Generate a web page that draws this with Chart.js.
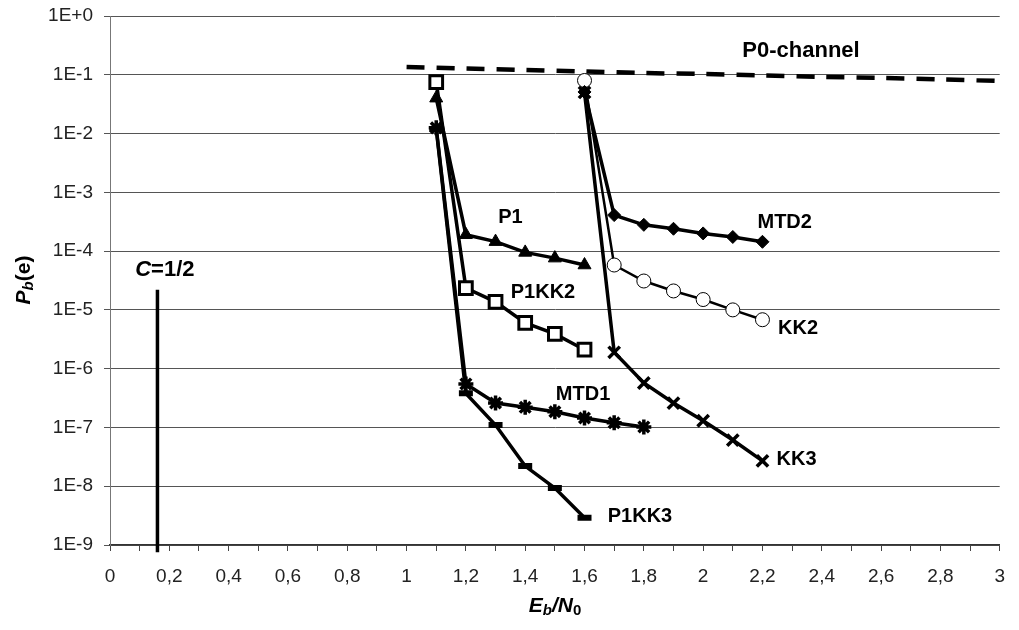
<!DOCTYPE html>
<html>
<head>
<meta charset="utf-8">
<script src="https://cdn.jsdelivr.net/npm/chart.js@4"></script>
<style>
  body { margin: 0; background: #fff; }
  #wrap { width: 1019px; height: 630px; }
</style>
</head>
<body>
<div id="wrap"><canvas id="chart" width="1019" height="630"></canvas></div>
<script>
// Eb/N0 points
var xLeft = [1.1, 1.2, 1.3, 1.4, 1.5, 1.6];
var xMtd1 = [1.1, 1.2, 1.3, 1.4, 1.5, 1.6, 1.7, 1.8];
var xRight = [1.6, 1.7, 1.8, 1.9, 2.0, 2.1, 2.2];
var xChannel = [1.0, 1.2, 1.4, 1.6, 1.8, 2.0, 2.2, 2.4, 2.6, 2.8, 3.0];
var xLimit = [0.16, 0.16];

// Pb(e) values
var p1 = [4e-2, 1.9e-4, 1.45e-4, 9.5e-5, 7.6e-5, 5.8e-5];
var p1kk2 = [7.5e-2, 2.35e-5, 1.37e-5, 6e-6, 3.9e-6, 2.1e-6];
var mtd1 = [1.25e-2, 5.5e-7, 2.6e-7, 2.2e-7, 1.85e-7, 1.45e-7, 1.2e-7, 1.02e-7];
var p1kk3 = [1.2e-2, 3.8e-7, 1.1e-7, 2.2e-8, 9.3e-9, 2.9e-9];
var mtd2 = [5.1e-2, 4.1e-4, 2.8e-4, 2.4e-4, 2.0e-4, 1.74e-4, 1.44e-4];
var kk2 = [8e-2, 5.8e-5, 3.1e-5, 2.1e-5, 1.5e-5, 1.0e-5, 6.8e-6];
var kk3 = [5e-2, 1.9e-6, 5.7e-7, 2.6e-7, 1.3e-7, 6.1e-8, 2.7e-8];
var channel = [0.136, 0.128, 0.121, 0.114, 0.107, 0.103, 0.0973, 0.0918, 0.0882, 0.0832, 0.0785];
var limit = [7.5e-10, 2.2e-5];

var decades = [1, 1e-1, 1e-2, 1e-3, 1e-4, 1e-5, 1e-6, 1e-7, 1e-8, 1e-9];

// curve labels: text, x, y
var labelText = ['P0-channel', 'P1', 'MTD2', 'P1KK2', 'KK2', 'MTD1', 'KK3', 'P1KK3'];
var labelX = [2.33, 1.35, 2.275, 1.46, 2.32, 1.595, 2.315, 1.787];
var labelY = [0.25, 3.7e-4, 3.1e-4, 1.95e-5, 4.8e-6, 3.6e-7, 2.8e-8, 3.1e-9];

function pts(xs, ys) {
  var out = [];
  for (var i = 0; i < xs.length; i++) {
    out.push({x: xs[i], y: ys[i]});
  }
  return out;
}

function series(xs, ys, style, radius, fill, bw, lw) {
  return {
    data: pts(xs, ys),
    showLine: true,
    borderColor: '#000',
    borderWidth: lw || 3.5,
    backgroundColor: fill,
    pointStyle: style,
    pointRadius: radius,
    pointHoverRadius: radius,
    pointBorderColor: '#000',
    pointBackgroundColor: fill,
    pointBorderWidth: bw,
    tension: 0
  };
}

var lbl = 'bold 20px "Liberation Sans", Arial, sans-serif';

function drawRuns(ctx, runs, x, y) {
  var w = 0;
  runs.forEach(function(r) { ctx.font = r.font; w += ctx.measureText(r.t).width; });
  var cx = x - w / 2;
  runs.forEach(function(r) {
    ctx.font = r.font;
    ctx.fillText(r.t, cx, y + (r.dy || 0));
    cx += ctx.measureText(r.t).width;
  });
}

var textPlugin = {
  id: 'texts',
  afterDatasetsDraw: function(chart) {
    var ctx = chart.ctx;
    var xs = chart.scales.x, ys = chart.scales.y;
    ctx.save();
    ctx.fillStyle = '#000';
    ctx.textAlign = 'left';
    ctx.textBaseline = 'middle';
    for (var i = 0; i < labelText.length; i++) {
      var f = i === 0 ? 'bold 22px "Liberation Sans", Arial, sans-serif' : lbl;
      drawRuns(ctx, [{t: labelText[i], font: f}], xs.getPixelForValue(labelX[i]), ys.getPixelForValue(labelY[i]));
    }
    drawRuns(ctx, [
      {t: 'C', font: 'italic bold 22px "Liberation Sans", Arial, sans-serif'},
      {t: '=1/2', font: 'bold 22px "Liberation Sans", Arial, sans-serif'}
    ], xs.getPixelForValue(0.185), ys.getPixelForValue(4.8e-5));

    // axis titles
    var it = 'italic bold 21px "Liberation Sans", Arial, sans-serif';
    var itSub = 'italic bold 15px "Liberation Sans", Arial, sans-serif';
    var bSub = 'bold 15px "Liberation Sans", Arial, sans-serif';
    drawRuns(ctx, [
      {t: 'E', font: it}, {t: 'b', font: itSub, dy: 5},
      {t: '/N', font: it}, {t: '0', font: bSub, dy: 5}
    ], 555, 606);
    ctx.translate(24, 280);
    ctx.rotate(-Math.PI / 2);
    drawRuns(ctx, [
      {t: 'P', font: it}, {t: 'b', font: itSub, dy: 5},
      {t: '(e)', font: 'bold 21px "Liberation Sans", Arial, sans-serif'}
    ], 0, 0);
    ctx.restore();
  }
};

var datasets = [
  {
    data: pts(xChannel, channel), showLine: true, borderColor: '#000', borderWidth: 4.5,
    borderDash: [18, 12], pointRadius: 0, tension: 0.3
  },
  {
    data: pts(xLimit, limit), showLine: true, borderColor: '#000', borderWidth: 3.5,
    pointRadius: 0, clip: false
  },
  series(xLeft, p1, 'triangle', 7.5, '#000', 1),
  series(xLeft, p1kk2, 'rect', 9, '#fff', 3),
  series(xMtd1, mtd1, 'star', 7.5, '#000', 3.5),
  series(xLeft, p1kk3, 'line', 7, '#000', 6),
  series(xRight, mtd2, 'rectRot', 6.5, '#000', 1),
  series(xRight, kk2, 'circle', 7, '#fff', 1, 2.5),
  series(xRight, kk3, 'crossRot', 8, '#000', 3.5)
];

new Chart(document.getElementById('chart'), {
  type: 'scatter',
  data: {datasets: datasets},
  plugins: [textPlugin],
  options: {
    responsive: false,
    animation: false,
    devicePixelRatio: 1,
    layout: {padding: {top: 16, right: 19, left: 0, bottom: 0}},
    plugins: {legend: {display: false}, tooltip: {enabled: false}},
    scales: {
      x: {
        type: 'linear',
        min: 0,
        max: 3,
        afterFit: function(scale) { scale.height = 85; },
        border: {color: '#333', width: 1.5},
        grid: {drawOnChartArea: false, drawTicks: true, tickLength: 6, color: '#444'},
        ticks: {
          stepSize: 0.1,
          autoSkip: false,
          maxRotation: 0,
          padding: 14,
          color: '#222',
          font: {family: '"Liberation Sans Narrow", "Liberation Sans", Arial', size: 19},
          callback: function(v) {
            var t = Math.round(v * 10);
            if (t % 2 !== 0) return '';
            return String(t / 10).replace('.', ',');
          }
        }
      },
      y: {
        type: 'logarithmic',
        min: 1e-9,
        max: 1,
        afterFit: function(scale) {
          scale.width = 110;
          scale.paddingTop = 0;
          scale.paddingBottom = 0;
        },
        afterBuildTicks: function(scale) {
          scale.ticks = decades.map(function(v) { return {value: v}; });
        },
        border: {color: '#777', width: 1},
        grid: {color: '#555', lineWidth: 1, tickLength: 6},
        ticks: {
          padding: 11,
          color: '#222',
          font: {family: '"Liberation Sans", Arial', size: 19},
          callback: function(v) {
            var e = Math.round(Math.log10(v));
            return '1E' + (e >= 0 ? '+' : '') + e;
          }
        }
      }
    }
  }
});
</script>
</body>
</html>
